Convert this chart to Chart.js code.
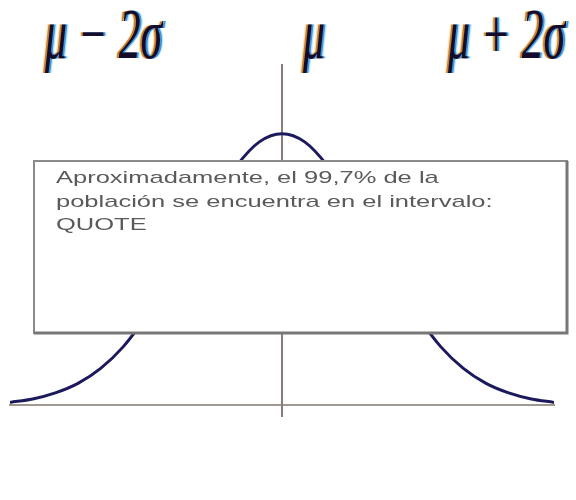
<!DOCTYPE html>
<html>
<head>
<meta charset="utf-8">
<script src="https://cdn.jsdelivr.net/npm/chart.js@4/dist/chart.umd.min.js"></script>
<style>
  html, body { margin: 0; padding: 0; background: #ffffff; }
  #wrap { width: 576px; height: 500px; }
</style>
</head>
<body>
<div id="wrap"><canvas id="c" width="576" height="500"></canvas></div>
<script>
// ---- data ----
const xValues = [-3, -2.75, -2.5, -2.25, -2, -1.75, -1.5, -1.25, -1, -0.75, -0.5, -0.25, 0,
                 0.25, 0.5, 0.75, 1, 1.25, 1.5, 1.75, 2, 2.25, 2.5, 2.75, 3];
const densityValues = [0.004, 0.009, 0.018, 0.032, 0.054, 0.086, 0.130, 0.183, 0.242, 0.301, 0.352, 0.387, 0.399,
                       0.387, 0.352, 0.301, 0.242, 0.183, 0.130, 0.086, 0.054, 0.032, 0.018, 0.009, 0.004];
const topLabels = ["\u03BC \u2212 2\u03C3", "\u03BC", "\u03BC + 2\u03C3"];
const boxLines = ["Aproximadamente, el 99,7% de la", "población se encuentra en el intervalo:", "QUOTE"];

const points = xValues.map((x, i) => ({ x: x, y: densityValues[i] }));

const overlayPlugin = {
  id: 'overlay',
  afterDraw(chart) {
    const ctx = chart.ctx;
    // top labels (condensed italic serif with coloured fringes)
    const labelX = [45, 303, 448];
    const baseY = 58;
    ctx.save();
    ctx.font = 'italic 72px "Liberation Serif", "DejaVu Serif", serif';
    ctx.textBaseline = 'alphabetic';
    ctx.textAlign = 'left';
    topLabels.forEach((t, i) => {
      const layers = [[-3, '#f5e2b0'], [3, '#b4e6ff'], [-1.8, '#c9802e'], [1.8, '#3d95dc'], [0, '#140c2a']];
      layers.forEach(([dx, col]) => {
        ctx.save();
        ctx.translate(labelX[i] + dx, baseY);
        ctx.scale(0.61, 1);
        ctx.fillStyle = col;
        ctx.fillText(t, 0, 0);
        ctx.restore();
      });
    });
    ctx.restore();

    // text box
    const bx = 34, by = 161, bw = 533, bh = 172;
    ctx.save();
    ctx.fillStyle = '#ffffff';
    ctx.fillRect(bx, by, bw, bh);
    ctx.strokeStyle = '#8a8a8a';
    ctx.lineWidth = 2;
    ctx.strokeRect(bx, by, bw, bh);
    ctx.strokeStyle = '#777777';
    ctx.lineWidth = 3;
    ctx.beginPath();
    ctx.moveTo(bx + bw, by);
    ctx.lineTo(bx + bw, by + bh);
    ctx.lineTo(bx, by + bh);
    ctx.stroke();
    ctx.fillStyle = '#5a5a5a';
    ctx.font = '17px "Liberation Sans", Arial, sans-serif';
    ctx.textBaseline = 'alphabetic';
    boxLines.forEach((line, i) => {
      ctx.save();
      ctx.translate(56, 183 + i * 23.7);
      ctx.scale(1.5, 1);
      ctx.fillText(line, 0, 0);
      ctx.restore();
    });
    ctx.restore();
  }
};

new Chart(document.getElementById('c'), {
  type: 'line',
  data: {
    datasets: [{
      data: points,
      borderColor: '#1c1a5c',
      borderWidth: 3,
      pointRadius: 0,
      fill: false,
      cubicInterpolationMode: 'monotone'
    }]
  },
  options: {
    responsive: false,
    animation: false,
    devicePixelRatio: 1,
    layout: { padding: { left: 10, right: 22, top: 65, bottom: 84 } },
    plugins: { legend: { display: false }, tooltip: { enabled: false }, title: { display: false } },
    scales: {
      x: {
        type: 'linear',
        min: -3, max: 3,
        position: { y: 0 },
        grid: { display: false, drawTicks: false },
        ticks: { display: false },
        border: { display: true, color: '#a09892', width: 2 }
      },
      y: {
        type: 'linear',
        min: -0.016, max: 0.5,
        position: { x: 0 },
        grid: { display: false, drawTicks: false },
        ticks: { display: false },
        border: { display: true, color: '#8a7c7e', width: 2 }
      }
    }
  },
  plugins: [overlayPlugin]
});
</script>
</body>
</html>
